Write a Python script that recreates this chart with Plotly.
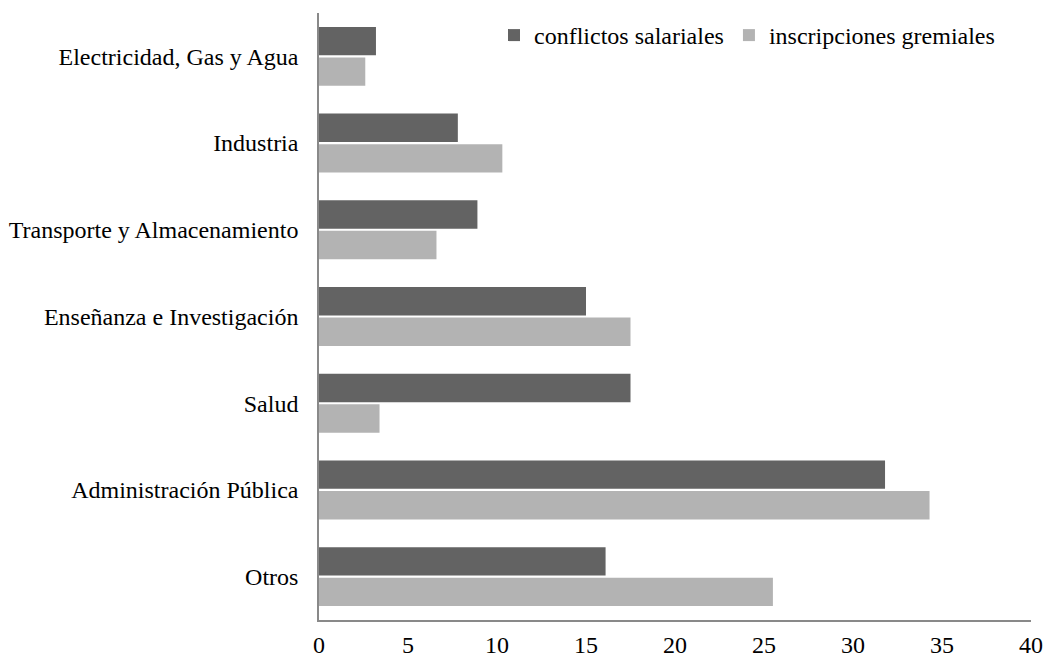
import plotly.graph_objects as go

categories = ["Electricidad, Gas y Agua", "Industria", "Transporte y Almacenamiento",
              "Enseñanza e Investigación", "Salud", "Administración Pública", "Otros"]
conflictos = [3.2, 7.8, 8.9, 15.0, 17.5, 31.8, 16.1]
inscripciones = [2.6, 10.3, 6.6, 17.5, 3.4, 34.3, 25.5]
x_ticks = [0, 5, 10, 15, 20, 25, 30, 35, 40]

FONT = "Liberation Serif"

fig = go.Figure()
fig.add_trace(go.Bar(y=categories, x=conflictos, orientation="h", name="conflictos salariales",
                     marker=dict(color="#636363", line=dict(width=0))))
fig.add_trace(go.Bar(y=categories, x=inscripciones, orientation="h", name="inscripciones gremiales",
                     marker=dict(color="#b3b3b3", line=dict(width=0))))

fig.update_layout(
    width=1047, height=657,
    margin=dict(l=319, r=16, t=13, b=37),
    paper_bgcolor="white", plot_bgcolor="white",
    barmode="group", bargap=0.296, bargroupgap=0.07,
    font=dict(family=FONT, size=24, color="black"),
    showlegend=True,
    legend=dict(orientation="h", x=(494 - 319) / 712, y=1.0, xanchor="left", yanchor="top",
                bgcolor="rgba(0,0,0,0)", font=dict(family=FONT, size=24, color="black"),
                itemwidth=30, tracegroupgap=0, traceorder="normal"),
)
fig.update_xaxes(range=[0, 40], tickvals=x_ticks, ticktext=[str(v) for v in x_ticks],
                 showgrid=False, zeroline=False, showline=True, linecolor="#898989", linewidth=1.5,
                 ticks="", ticklabelstandoff=2, automargin=False, fixedrange=True)
fig.update_yaxes(autorange="reversed", showgrid=False, zeroline=False, showline=True,
                 linecolor="#898989", linewidth=1.5, ticks="", ticklabelstandoff=14,
                 automargin=False)

fig.write_html("out.html")
